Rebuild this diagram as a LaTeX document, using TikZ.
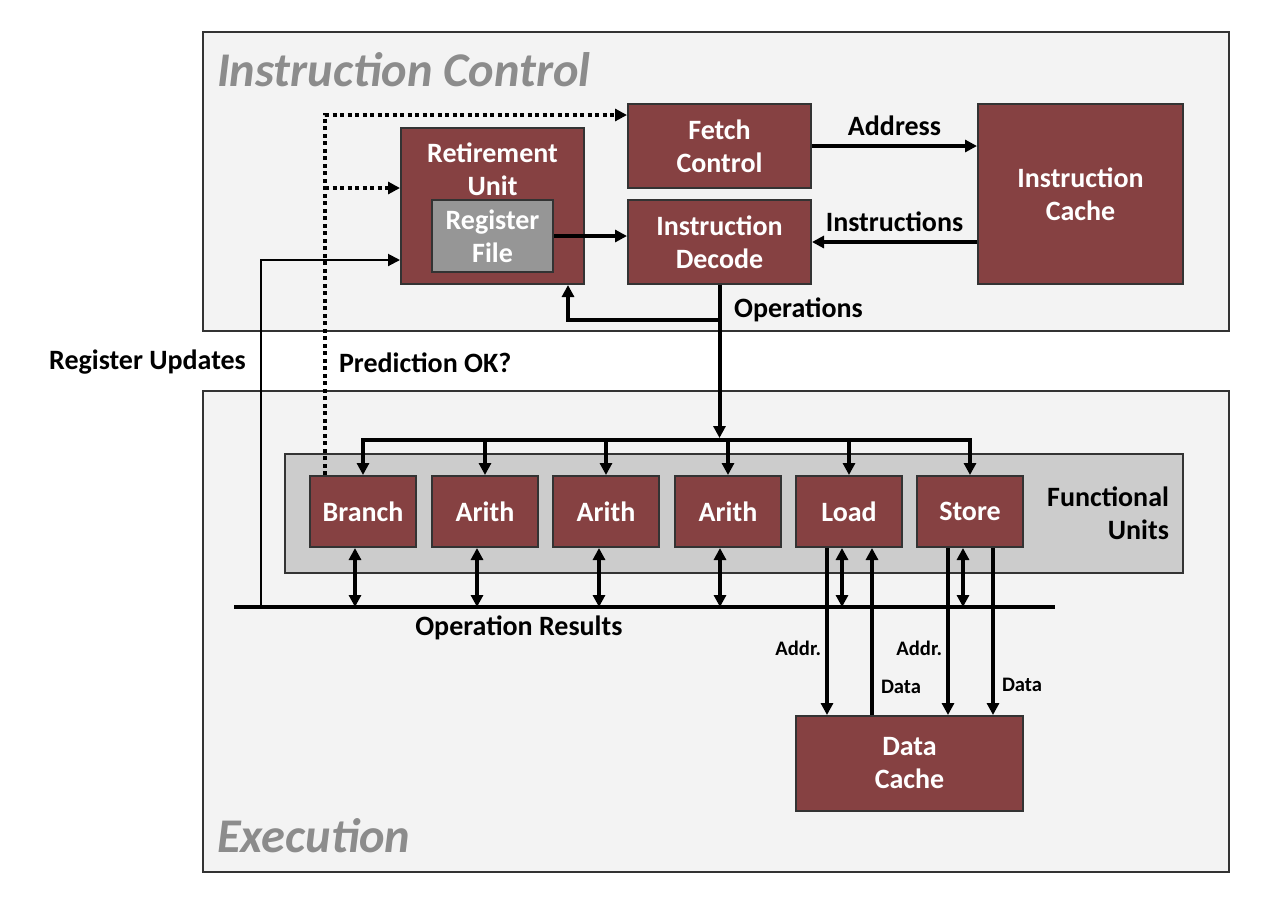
\documentclass[tikz,border=0pt]{standalone}
\usepackage{fontspec}
\setmainfont{Carlito}
\usepackage{tikz}
\usetikzlibrary{arrows.meta,positioning}
\definecolor{unitred}{RGB}{134,65,66}
\definecolor{regfill}{RGB}{150,150,150}
\definecolor{panelbg}{RGB}{243,243,243}
\definecolor{fubg}{RGB}{204,204,204}
\definecolor{titlegray}{RGB}{140,140,140}
\tikzstyle{Stage}=[rectangle, draw=black!80, line width=1pt, fill=panelbg]
\tikzstyle{Title}=[anchor=west, text=titlegray, font=\fontsize{24.2}{29}\selectfont\bfseries\itshape]
\tikzstyle{Unit}=[rectangle, draw=black!80, line width=1pt, fill=unitred, text=white, align=center, minimum width=53pt, minimum height=35.5pt]
\tikzstyle{Wire}=[line width=2pt, -{Triangle[length=6pt,width=6pt]}]
\tikzstyle{Both}=[line width=2pt, {Triangle[length=6pt,width=6pt]}-{Triangle[length=6pt,width=6pt]}]
\tikzstyle{Thin}=[line width=1pt, -{Triangle[length=6pt,width=6pt]}]
\tikzstyle{Hint}=[line width=2pt, dash pattern=on 2pt off 1.75pt, -{Triangle[length=6pt,width=6pt]}]
\tikzstyle{Tag}=[inner sep=1pt, font=\fontsize{10.3}{12}\selectfont\bfseries]

\begin{document}
\begin{tikzpicture}[x=0.5pt, y=-0.5pt, font=\fontsize{14}{16.5}\selectfont\bfseries]
    \useasboundingbox (0,0) rectangle (1286,902);
    \path
    (716,181.5) node[Stage, minimum width=513pt, minimum height=149.5pt] (ictrl) {}
    (716,631.5) node[Stage, minimum width=513pt, minimum height=240.5pt] (exec) {}
    (210,70) node[Title] (ictitle) {Instruction Control}
    (210,836) node[Title] (extitle) {Execution}
    (734,513.5) node[rectangle, draw=black!80, line width=1pt, fill=fubg, minimum width=449pt, minimum height=59.5pt] (fu) {};

    \path
    (492.5,206) node[Unit, minimum width=91.5pt, minimum height=78pt] (retire) {}
    (492.5,169.5) node[text=white, align=center] (retlabel) {Retirement\\Unit}
    (492.5,236) node[Unit, fill=regfill, minimum width=60.5pt, minimum height=36pt] (regfile) {Register\\File}
    (719.5,146) node[Unit, minimum width=91.5pt, minimum height=42pt] (fetch) {Fetch\\Control}
    (719.5,242) node[Unit, minimum width=91.5pt, minimum height=42pt] (decode) {Instruction\\Decode}
    (1080.5,194) node[Unit, minimum width=102.5pt, minimum height=90pt] (icache) {Instruction\\Cache}
    (909.5,763.5) node[Unit, minimum width=113.5pt, minimum height=47.5pt] (dcache) {Data\\Cache};

    \path
    (363,511.5) node[Unit] (branch) {Branch}
    (485,511.5) node[Unit] (arith1) {Arith}
    (606,511.5) node[Unit] (arith2) {Arith}
    (728,511.5) node[Unit] (arith3) {Arith}
    (849,511.5) node[Unit] (load) {Load}
    (970,511.5) node[Unit] (store) {Store};
    \node[left=4pt of fu.east, align=right] (fulabel) {Functional\\Units};

    \coordinate (fanout) at (719.5,440);
    \coordinate (resL) at (234,607);
    \coordinate (resR) at (1055,607);
    \coordinate (predict) at ([xshift=-19pt]branch.north);
    \coordinate (hint2) at ([yshift=9pt]retire.west);
    \coordinate (regin) at ([yshift=-27pt]retire.west);

    \draw[Wire] (fetch.east) -- (icache.west |- fetch.east) node[midway, above=1pt] {Address};
    \draw[Wire] (icache.west |- decode.east) -- (decode.east) node[midway, above=1pt] {Instructions};
    \draw[Wire] (regfile.east) -- (decode.west |- regfile.east);
    \draw[Wire] (decode.south) -- ([yshift=1pt]fanout) node[pos=0.16, right=3pt] {Operations};
    \draw[Wire] (decode.south |- 0,320) -| ([xshift=37.75pt]retire.south);
    \draw[Hint] (predict) |- ([yshift=15.5pt]fetch.west);
    \draw[Hint] (predict |- hint2) -- (hint2);
    \draw[Thin] ([xshift=13.5pt]resL) |- (regin);
    \path (147.5,362) node (regupd) {Register Updates}
    (332,363) node[anchor=west] (predok) {Prediction OK?};

    \draw[Both] (branch.north) |- (store.north |- fanout) -- (store.north);
    \draw[Wire] (arith1.north |- fanout) -- (arith1.north);
    \draw[Wire] (arith2.north |- fanout) -- (arith2.north);
    \draw[Wire] (arith3.north |- fanout) -- (arith3.north);
    \draw[Wire] (load.north |- fanout) -- (load.north);

    \draw[line width=2pt] (resL) -- (resR) node[pos=0.347, below] {Operation Results};
    \draw[Both] ([xshift=-4pt]branch.south) -- ([xshift=-4pt]branch.south |- resL);
    \draw[Both] ([xshift=-4pt]arith1.south) -- ([xshift=-4pt]arith1.south |- resL);
    \draw[Both] ([xshift=-3.5pt]arith2.south) -- ([xshift=-3.5pt]arith2.south |- resL);
    \draw[Both] ([xshift=-4pt]arith3.south) -- ([xshift=-4pt]arith3.south |- resL);
    \draw[Both] ([xshift=-3.5pt]load.south) -- ([xshift=-3.5pt]load.south |- resL);
    \draw[Both] ([xshift=-3.5pt]store.south) -- ([xshift=-3.5pt]store.south |- resL);

    \draw[Wire] ([xshift=-11pt]load.south) -- ([xshift=-11pt]load.south |- dcache.north) node[Tag, pos=0.6, left=1pt] {Addr.};
    \draw[Wire] ([xshift=11.5pt]load.south |- dcache.north) -- ([xshift=11.5pt]load.south) node[Tag, pos=0.166, right=2.5pt] {Data};
    \draw[Wire] ([xshift=-11pt]store.south) -- ([xshift=-11pt]store.south |- dcache.north) node[Tag, pos=0.6, left=1pt] {Addr.};
    \draw[Wire] ([xshift=11.5pt]store.south) -- ([xshift=11.5pt]store.south |- dcache.north) node[Tag, pos=0.817, right=2.5pt] {Data};
\end{tikzpicture}
\end{document}
